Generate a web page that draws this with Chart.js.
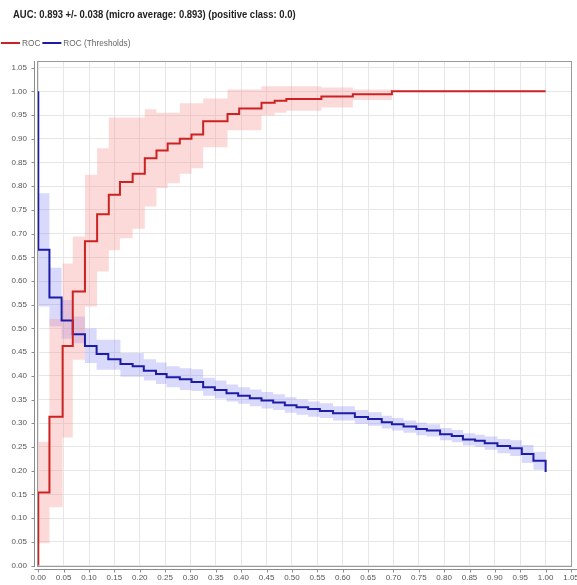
<!DOCTYPE html>
<html>
<head>
<meta charset="utf-8">
<script src="https://cdn.jsdelivr.net/npm/chart.js@4/dist/chart.umd.min.js"></script>
<style>
  html, body { margin: 0; padding: 0; background: #fff; }
  #wrap { width: 577px; height: 585px; }
</style>
</head>
<body>
<div id="wrap"><canvas id="rocChart" width="577" height="585"></canvas></div>
<script>
/* global Chart */
const TITLE = "AUC: 0.893 +/- 0.038 (micro average: 0.893) (positive class: 0.0)";

const xTicks = [0, 0.05, 0.1, 0.15, 0.2, 0.25, 0.3, 0.35, 0.4, 0.45, 0.5, 0.55, 0.6, 0.65, 0.7, 0.75, 0.8, 0.85, 0.9, 0.95, 1.0, 1.05];
const yTicks = [0, 0.05, 0.1, 0.15, 0.2, 0.25, 0.3, 0.35, 0.4, 0.45, 0.5, 0.55, 0.6, 0.65, 0.7, 0.75, 0.8, 0.85, 0.9, 0.95, 1.0, 1.05];

// ROC (mean curve) - x is false positive rate where the step happens
const rocX = [0, 0, 0.022, 0.048, 0.068, 0.092, 0.116, 0.139, 0.161, 0.186, 0.210, 0.233, 0.255, 0.279, 0.302, 0.325, 0.373, 0.396, 0.440, 0.466, 0.489, 0.558, 0.620, 0.697, 1.0];
const rocY = [0, 0.154, 0.314, 0.463, 0.578, 0.684, 0.741, 0.782, 0.809, 0.826, 0.859, 0.875, 0.890, 0.900, 0.909, 0.937, 0.952, 0.964, 0.976, 0.980, 0.984, 0.989, 0.994, 1.0, 1.0];
const rocUpper = [0, 0.261, 0.52, 0.637, 0.694, 0.824, 0.88, 0.945, 0.945, 0.945, 0.962, 0.955, 0.955, 0.975, 0.975, 0.985, 1.004, 1.004, 1.011, 1.011, 1.011, 1.008, 1.004, 1.0, 1.0];
const rocLower = [0, 0.047, 0.123, 0.27, 0.434, 0.546, 0.62, 0.665, 0.69, 0.71, 0.757, 0.796, 0.806, 0.826, 0.838, 0.882, 0.918, 0.918, 0.949, 0.955, 0.959, 0.966, 0.982, 1.0, 1.0];

// ROC (Thresholds)
const thrX = [0, 0, 0.022, 0.046, 0.068, 0.092, 0.115, 0.138, 0.162, 0.186, 0.208, 0.232, 0.253, 0.279, 0.302, 0.325, 0.348, 0.371, 0.394, 0.417, 0.440, 0.463, 0.486, 0.509, 0.532, 0.555, 0.581, 0.624, 0.650, 0.677, 0.697, 0.720, 0.745, 0.766, 0.792, 0.815, 0.837, 0.861, 0.880, 0.905, 0.930, 0.953, 0.976, 1.0];
const thrY = [1.0, 0.666, 0.565, 0.517, 0.488, 0.463, 0.446, 0.435, 0.425, 0.420, 0.411, 0.404, 0.397, 0.393, 0.387, 0.376, 0.370, 0.3635, 0.358, 0.353, 0.348, 0.344, 0.338, 0.334, 0.330, 0.326, 0.321, 0.313, 0.309, 0.302, 0.298, 0.293, 0.288, 0.285, 0.277, 0.273, 0.266, 0.263, 0.258, 0.252, 0.2475, 0.235, 0.221, 0.197];
const thrUpper = [1.0, 0.785, 0.628, 0.56, 0.525, 0.50, 0.476, 0.476, 0.448, 0.448, 0.435, 0.428, 0.420, 0.416, 0.414, 0.396, 0.390, 0.382, 0.376, 0.371, 0.366, 0.361, 0.355, 0.350, 0.346, 0.342, 0.336, 0.328, 0.323, 0.316, 0.311, 0.306, 0.301, 0.298, 0.290, 0.286, 0.279, 0.276, 0.272, 0.267, 0.264, 0.254, 0.240, 0.197];
const thrLower = [1.0, 0.546, 0.504, 0.478, 0.469, 0.427, 0.413, 0.413, 0.398, 0.398, 0.390, 0.383, 0.376, 0.370, 0.368, 0.358, 0.352, 0.346, 0.341, 0.336, 0.331, 0.328, 0.322, 0.318, 0.314, 0.311, 0.306, 0.299, 0.295, 0.289, 0.285, 0.280, 0.275, 0.272, 0.264, 0.260, 0.253, 0.250, 0.244, 0.237, 0.231, 0.216, 0.202, 0.197];

const RED = "#cc2222";
const BLUE = "#1c1ca6";
const PINK = "rgba(250, 150, 150, 0.35)";
const LILAC = "rgba(120, 120, 245, 0.28)";
const FONT = "'Liberation Sans', Arial, sans-serif";
const AXIS = "#8c8c8c";

const pts = (xs, ys) => xs.map((x, i) => ({ x, y: ys[i] }));

// text in the original is a bit squeezed sideways
function narrowText(ctx, text, x, y, sx) {
  ctx.save();
  ctx.translate(x, y);
  ctx.scale(sx, 1);
  ctx.fillText(text, 0, 0);
  ctx.restore();
  return ctx.measureText(text).width * sx;
}

// title + legend drawn by hand so they can sit exactly where the original has them
const header = {
  id: "header",
  afterDraw(chart) {
    const ctx = chart.ctx;
    ctx.save();
    ctx.textBaseline = "middle";
    ctx.fillStyle = "#222";
    ctx.font = `bold 11px ${FONT}`;
    narrowText(ctx, TITLE, 13, 15, 0.86);

    ctx.font = `9.5px ${FONT}`;
    let x = 1;
    const y = 43;
    chart.data.datasets.filter((d) => !d.band).forEach((d) => {
      ctx.strokeStyle = d.borderColor;
      ctx.lineWidth = 2;
      ctx.beginPath();
      ctx.moveTo(x, y);
      ctx.lineTo(x + 19, y);
      ctx.stroke();
      x += 21;
      ctx.fillStyle = "#666";
      x += narrowText(ctx, d.label, x, y + 0.5, 0.87) + 2;
    });
    ctx.restore();
  },
};

// plot frame plus the offset axis lines and their tick marks
const frame = {
  id: "frame",
  afterDraw(chart) {
    const a = chart.chartArea;
    const ctx = chart.ctx;
    const xs = chart.scales.x;
    const ys = chart.scales.y;
    ctx.save();
    ctx.lineWidth = 1;
    ctx.strokeStyle = "#9a9a9a";
    ctx.strokeRect(Math.round(a.left) + 0.5, Math.round(a.top) + 0.5, Math.round(a.right - a.left), Math.round(a.bottom - a.top));

    ctx.strokeStyle = AXIS;
    const ax = Math.round(a.left) - 2.5;
    const ay = Math.round(a.bottom) + 3.5;
    ctx.beginPath();
    ctx.moveTo(ax, a.top);
    ctx.lineTo(ax, a.bottom + 1);
    ctx.moveTo(ax, ay);
    ctx.lineTo(chart.width, ay);
    xTicks.forEach((v) => {
      const px = Math.round(xs.getPixelForValue(v)) + 0.5;
      ctx.moveTo(px, ay);
      ctx.lineTo(px, ay + 3);
    });
    yTicks.forEach((v) => {
      const py = Math.round(ys.getPixelForValue(v)) + 0.5;
      ctx.moveTo(ax, py);
      ctx.lineTo(ax - 3, py);
    });
    ctx.stroke();
    ctx.restore();
  },
};

const band = (label, xs, ys, color, fill) => ({
  label, data: pts(xs, ys),
  band: true, stepped: "before", borderWidth: 0, pointRadius: 0,
  backgroundColor: color, borderColor: "transparent", fill, order: 2,
});

new Chart(document.getElementById("rocChart"), {
  type: "line",
  data: {
    datasets: [
      { label: "ROC", data: pts(rocX, rocY), stepped: "before", borderColor: RED, borderWidth: 2, pointRadius: 0, fill: false, order: 0 },
      { label: "ROC (Thresholds)", data: pts(thrX, thrY), stepped: "before", borderColor: BLUE, borderWidth: 2, pointRadius: 0, fill: false, order: 0 },
      band("rocUpper", rocX, rocUpper, PINK, "+1"),
      band("rocLower", rocX, rocLower, PINK, false),
      band("thrUpper", thrX, thrUpper, LILAC, "+1"),
      band("thrLower", thrX, thrLower, LILAC, false),
    ],
  },
  options: {
    responsive: false,
    animation: false,
    layout: { padding: { left: 0, right: 6, top: 61, bottom: 2 } },
    plugins: {
      title: { display: false },
      legend: { display: false },
      tooltip: { enabled: false },
    },
    scales: {
      x: {
        type: "linear", min: -0.0025, max: 1.05,
        afterBuildTicks: (s) => { s.ticks = xTicks.map((v) => ({ value: v })); },
        afterFit: (s) => { s.paddingLeft = 0; s.paddingRight = 0; s.height = 17; },
        ticks: { color: "#555", font: { family: FONT, size: 8 }, padding: 7, maxRotation: 0, autoSkip: false, callback: (v) => v.toFixed(2) },
        grid: { color: "#e6e6e6", drawTicks: false },
        border: { display: false },
      },
      y: {
        type: "linear", min: -0.001, max: 1.064,
        afterBuildTicks: (s) => { s.ticks = yTicks.map((v) => ({ value: v })); },
        afterFit: (s) => { s.width = 37; },
        ticks: { color: "#555", font: { family: FONT, size: 8 }, padding: 10, autoSkip: false, callback: (v) => v.toFixed(2) },
        grid: { color: "#e6e6e6", drawTicks: false },
        border: { display: false },
      },
    },
  },
  plugins: [frame, header],
});
</script>
</body>
</html>
